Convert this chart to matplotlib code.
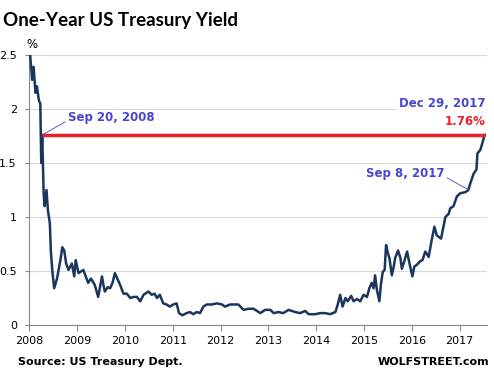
import matplotlib
matplotlib.use("Agg")
import matplotlib.pyplot as plt

# Axis position along the year axis (2008 = left edge) and one-year yield in %
pos = [2008.02, 2008.06, 2008.09, 2008.13, 2008.16, 2008.20, 2008.23, 2008.25,
       2008.27, 2008.30, 2008.32, 2008.36, 2008.39, 2008.43, 2008.45, 2008.48,
       2008.52, 2008.58, 2008.65, 2008.69, 2008.73, 2008.77, 2008.82, 2008.89,
       2008.94, 2008.97, 2009.03, 2009.13, 2009.23, 2009.29, 2009.37, 2009.44,
       2009.52, 2009.55, 2009.58, 2009.64, 2009.69, 2009.74, 2009.79, 2009.85,
       2009.90, 2009.97, 2010.04, 2010.11, 2010.18, 2010.25, 2010.32, 2010.39,
       2010.49, 2010.56, 2010.62, 2010.67, 2010.73, 2010.80, 2010.87, 2010.94,
       2011.01, 2011.08, 2011.13, 2011.20, 2011.29, 2011.36, 2011.43, 2011.50,
       2011.57, 2011.64, 2011.71, 2011.82, 2011.92, 2012.03, 2012.09, 2012.20,
       2012.37, 2012.48, 2012.58, 2012.69, 2012.83, 2012.93, 2013.04, 2013.11,
       2013.21, 2013.31, 2013.42, 2013.56, 2013.66, 2013.77, 2013.84, 2013.98,
       2014.08, 2014.19, 2014.29, 2014.40, 2014.45, 2014.50, 2014.55, 2014.61,
       2014.66, 2014.73, 2014.78, 2014.85, 2014.92, 2014.99, 2015.06, 2015.11,
       2015.16, 2015.20, 2015.23, 2015.27, 2015.32, 2015.35, 2015.39, 2015.43,
       2015.46, 2015.50, 2015.53, 2015.58, 2015.62, 2015.65, 2015.71, 2015.76,
       2015.79, 2015.84, 2015.90, 2015.94, 2016.01, 2016.05, 2016.11, 2016.17,
       2016.22, 2016.28, 2016.35, 2016.42, 2016.47, 2016.52, 2016.61, 2016.70,
       2016.77, 2016.80, 2016.87, 2016.94, 2017.01, 2017.12, 2017.18, 2017.22,
       2017.29, 2017.35, 2017.37, 2017.43, 2017.49, 2017.52]
yield_pct = [2.49, 2.27, 2.39, 2.15, 2.21, 2.08, 2.05, 1.50,
             1.76, 1.22, 1.10, 1.25, 1.06, 0.94, 0.69, 0.51,
             0.34, 0.43, 0.60, 0.72, 0.69, 0.57, 0.51, 0.57,
             0.45, 0.60, 0.48, 0.51, 0.39, 0.43, 0.37, 0.26,
             0.45, 0.37, 0.31, 0.35, 0.34, 0.39, 0.48, 0.42,
             0.37, 0.29, 0.29, 0.25, 0.26, 0.26, 0.22, 0.28,
             0.31, 0.28, 0.29, 0.25, 0.28, 0.20, 0.19, 0.17,
             0.19, 0.20, 0.11, 0.09, 0.11, 0.12, 0.10, 0.12,
             0.11, 0.17, 0.19, 0.19, 0.20, 0.19, 0.17, 0.19,
             0.19, 0.14, 0.15, 0.15, 0.11, 0.14, 0.14, 0.11,
             0.12, 0.11, 0.14, 0.12, 0.11, 0.13, 0.10, 0.10,
             0.11, 0.11, 0.10, 0.12, 0.19, 0.28, 0.17, 0.25,
             0.22, 0.27, 0.22, 0.24, 0.22, 0.28, 0.26, 0.34,
             0.39, 0.34, 0.46, 0.32, 0.22, 0.37, 0.49, 0.51,
             0.74, 0.66, 0.62, 0.46, 0.54, 0.62, 0.69, 0.62,
             0.52, 0.59, 0.68, 0.59, 0.45, 0.54, 0.56, 0.59,
             0.60, 0.68, 0.63, 0.80, 0.91, 0.83, 0.80, 1.00,
             1.03, 1.08, 1.10, 1.19, 1.22, 1.23, 1.25, 1.31,
             1.40, 1.44, 1.59, 1.62, 1.71, 1.76]

year_labels = ["2008", "2009", "2010", "2011", "2012",
               "2013", "2014", "2015", "2016", "2017"]
y_ticks = [0, 0.5, 1, 1.5, 2, 2.5]
y_labels = ["0", "0.5", "1", "1.5", "2", "2.5"]

last_value = 1.76
sep2008 = (2008.27, 1.76)
sep2017 = (2017.19, 1.25)

navy = "#1b365d"
ann_blue = "#4646d2"
red = "#e8202a"

fig = plt.figure(figsize=(4.94, 3.79), dpi=100)
ax = fig.add_axes([0.0593, 0.1425, 0.927, 0.7124])

ax.plot(pos, yield_pct, color=navy, lw=1.8, zorder=3)
ax.hlines(last_value, sep2008[0], pos[-1], color=red, lw=2.5, zorder=4)

ax.set_xlim(2008, 2017.575)
ax.set_ylim(0, 2.5)
ax.set_xticks(range(2008, 2018))
ax.set_xticklabels(year_labels)
ax.set_yticks(y_ticks)
ax.set_yticklabels(y_labels)
ax.yaxis.grid(True, color="#d9d9d9", lw=0.8)
ax.set_axisbelow(True)
for side in ["top", "right"]:
    ax.spines[side].set_visible(False)
for side in ["left", "bottom"]:
    ax.spines[side].set_color("#888888")
ax.tick_params(axis="x", length=4, color="#888888", pad=4, labelsize=8)
ax.tick_params(axis="y", length=3, color="#888888", pad=6, labelsize=8)

ann_font = dict(fontsize=8.5, fontweight="bold", color=ann_blue)
ax.annotate("Sep 20, 2008", xy=sep2008, xytext=(2008.81, 1.92),
            ha="left", va="center",
            arrowprops=dict(arrowstyle="-", color=ann_blue, lw=0.6,
                            shrinkA=0, shrinkB=0, relpos=(0, 0.3)),
            **ann_font)
ax.annotate("Sep 8, 2017", xy=sep2017, xytext=(2016.68, 1.40),
            ha="right", va="center",
            arrowprops=dict(arrowstyle="-", color=ann_blue, lw=0.6,
                            shrinkA=0, shrinkB=0, relpos=(1, 0.3)),
            **ann_font)
ax.text(2017.53, 2.05, "Dec 29, 2017", ha="right", va="center",
        bbox=dict(facecolor="white", edgecolor="none", pad=1), **ann_font)
ax.text(2017.53, 1.88, f"{last_value:.2f}%", ha="right", va="center",
        fontsize=8.5, fontweight="bold", color=red)

fig.text(0.006, 0.945, "One-Year US Treasury Yield", fontsize=13.5,
         fontweight="bold", family="Lato", va="center")
fig.text(0.064, 0.883, "%", fontsize=8.5, ha="center", va="center")
fig.text(0.036, 0.045, "Source: US Treasury Dept.", fontsize=8,
         fontweight="bold", va="center")
fig.text(0.99, 0.045, "WOLFSTREET.com", fontsize=8,
         fontweight="bold", ha="right", va="center")

fig.savefig("out.png", dpi=100)
